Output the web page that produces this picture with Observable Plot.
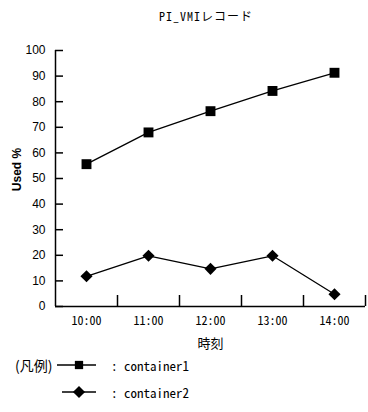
<!DOCTYPE html>
<html>
<head>
<meta charset="utf-8">
<script src="https://cdn.jsdelivr.net/npm/d3@7"></script>
<script src="https://cdn.jsdelivr.net/npm/@observablehq/plot@0.6"></script>
<style>
  html, body { margin: 0; padding: 0; background: #fff; }
  #wrap { position: relative; width: 368px; height: 412px; background: #fff; font-family: "Noto Sans Mono CJK JP", "Noto Sans CJK JP", sans-serif; color: #000; }
  #title { position: absolute; left: 0; top: 0; width: 412px; }
  #title span { position: absolute; left: 206px; top: 15px; transform: translate(-50%, -50%); font-size: 12px; letter-spacing: 1px; white-space: nowrap; }
  #chart { position: absolute; left: 0; top: 32px; }
  #chart g[aria-label="y-axis label"] text { font-weight: bold; font-family: "Liberation Sans", Arial, sans-serif; font-size: 12px; }
  #chart g[aria-label="x-axis label"] text { font-family: "Noto Sans CJK JP", sans-serif; font-size: 13px; }
  #chart g[aria-label="y-axis tick label"] text { font-family: "Liberation Sans", Arial, sans-serif; font-size: 12px; }
  #chart g[aria-label="x-axis tick label"] text { font-family: "Noto Sans Mono CJK JP", "Noto Sans CJK JP", monospace; font-size: 12px; }
  .legrow { position: absolute; left: 0; height: 20px; display: block; }
  .legrow span { position: absolute; top: 50%; transform: translateY(-50%); white-space: nowrap; font-size: 13px; }
  .legrow svg { position: absolute; left: 56px; top: 0; }
</style>
</head>
<body>
<div id="wrap">
  <div id="title"><span>PI_VMIレコード</span></div>
  <div id="chart"></div>
  <div id="legend"></div>
</div>
<script>
const titleText = "PI_VMIレコード";
const times = ["10:00", "11:00", "12:00", "13:00", "14:00"];
const container1 = [55.6, 68.0, 76.3, 84.2, 91.3];
const container2 = [11.8, 19.8, 14.7, 19.8, 4.8];
const seriesNames = ["container1", "container2"];
const yTicks = [0, 10, 20, 30, 40, 50, 60, 70, 80, 90, 100];
const xLabel = "時刻";
const yLabel = "Used %";
const legendTitle = "(凡例)";

document.querySelector("#title span").textContent = titleText;

const data = times.flatMap((t, i) => [
  {time: t, value: container1[i], series: seriesNames[0]},
  {time: t, value: container2[i], series: seriesNames[1]}
]);

const squareSym = {draw(ctx, size) { const r = Math.sqrt(size / Math.PI) * 0.9; ctx.moveTo(-r, -r); ctx.lineTo(r, -r); ctx.lineTo(r, r); ctx.lineTo(-r, r); ctx.closePath(); }};
const diamondSym = {draw(ctx, size) { const r = Math.sqrt(size / Math.PI) * 1.1; ctx.moveTo(0, -r); ctx.lineTo(r, 0); ctx.lineTo(0, r); ctx.lineTo(-r, 0); ctx.closePath(); }};

const chart = Plot.plot({
  width: 368,
  height: 320,
  marginTop: 18,
  marginBottom: 46,
  marginLeft: 55,
  marginRight: 3,
  style: {background: "white", color: "black", fontSize: "12px", fontFamily: "Liberation Sans, Arial, sans-serif", overflow: "visible"},
  x: {type: "point", domain: times, padding: 0.5},
  y: {domain: [0, 100]},
  marks: [
    Plot.ruleY([0], {stroke: "black", strokeWidth: 1.5}),
    Plot.ruleX([times[0]], {dx: -31, stroke: "black", strokeWidth: 1.5}),
    Plot.ruleX(times, {x: d => d, dx: 31, insetTop: 245, stroke: "black", strokeWidth: 1.5}),
    Plot.ruleY(yTicks, {y: d => d, insetRight: 302, stroke: "black", strokeWidth: 1.5}),
    Plot.line(data, {x: "time", y: "value", z: "series", stroke: "black", strokeWidth: 1.3}),
    Plot.dot(data.filter(d => d.series === seriesNames[0]), {x: "time", y: "value", symbol: squareSym, r: 5.5, fill: "black", stroke: "none"}),
    Plot.dot(data.filter(d => d.series === seriesNames[1]), {x: "time", y: "value", symbol: diamondSym, r: 5.5, fill: "black", stroke: "none"}),
    Plot.axisX({tickSize: 0, tickPadding: 10, label: xLabel, labelAnchor: "center", labelOffset: 41, labelArrow: "none"}),
    Plot.axisY({ticks: yTicks, tickSize: 0, tickPadding: 10, label: yLabel, labelAnchor: "center", labelOffset: 43, labelArrow: "none"})
  ]
});
const yl = chart.querySelector('g[aria-label="y-axis label"]');
if (yl) yl.setAttribute("transform", "translate(0,-9) " + (yl.getAttribute("transform") || ""));
document.getElementById("chart").appendChild(chart);

// legend
const legend = document.getElementById("legend");
const rows = [
  {name: seriesNames[0], sym: squareSym, top: 355, showTitle: true},
  {name: seriesNames[1], sym: diamondSym, top: 382, showTitle: false}
];
rows.forEach(r => {
  const row = document.createElement("div");
  row.className = "legrow";
  row.style.top = r.top + "px";
  row.style.width = "368px";
  if (r.showTitle) {
    const t = document.createElement("span");
    t.textContent = legendTitle;
    t.style.left = "15px";
    t.style.fontSize = "14px";
    t.style.fontFamily = "Noto Sans CJK JP, sans-serif";
    row.appendChild(t);
  }
  const svg = d3.create("svg").attr("width", 44).attr("height", 20);
  svg.append("line").attr("x1", r.showTitle ? 1 : 6).attr("x2", 40).attr("y1", 10).attr("y2", 10).attr("stroke", "black").attr("stroke-width", 1.5);
  svg.append("path").attr("transform", "translate(23,10)").attr("d", d3.symbol(r.sym, Math.PI * (r.showTitle ? 4.6 : 5.5) ** 2)()).attr("fill", "black");
  row.appendChild(svg.node());
  const s = document.createElement("span");
  s.textContent = ": " + r.name;
  s.style.left = "111px";
  row.appendChild(s);
  legend.appendChild(row);
});
</script>
</body>
</html>
